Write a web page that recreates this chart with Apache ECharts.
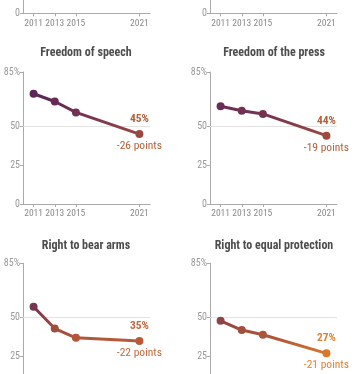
<!DOCTYPE html>
<html><head><meta charset="utf-8">
<script src="https://cdn.jsdelivr.net/npm/echarts@6/dist/echarts.min.js"></script>
<style>html,body{margin:0;padding:0;background:#fff}#c{width:355px;height:374px}</style>
</head><body><div id="c"></div>
<script>
const years = [2011, 2013, 2015, 2021];
const yTicks = [0, 25, 50, 85];
const panelTitles = ['Freedom of speech', 'Freedom of the press', 'Right to bear arms', 'Right to equal protection'];
const speech = [71, 66, 59, 45];
const press = [63, 60, 58, 44];
const bearArms = [57, 43, 37, 35];
const equalProtection = [48, 42, 39, 27];
const seriesValues = [speech, press, bearArms, equalProtection];

const FONT = "'Roboto Condensed', 'Open Sans Condensed', 'Liberation Sans', sans-serif";
const lefts = [23, 210];
const labelColors = ['#b0603a', '#b0603a', '#c0683c', '#dc8236'];

// rows: [top, height, yMax] ; the first row is only partly in view
const rows = [[0, 13.3, 85 * 13.3 / 132], [72, 132, 85], [263.3, 132, 85]];

const grids = [], xAxes = [], yAxes = [], series = [], graphics = [];
rows.forEach((row, r) => {
  for (let c = 0; c < 2; c++) {
    grids.push({left: lefts[c], top: row[0], width: 127, height: row[1], containLabel: false, outerBoundsMode: 'none'});
    const gi = grids.length - 1;
    const ticks = r === 0 ? [0] : yTicks;
    xAxes.push({
      type: 'value', gridIndex: gi, min: 2010, max: 2022,
      axisLine: {show: true, lineStyle: {color: '#aaa', width: 1}},
      axisTick: {show: true, length: 3, customValues: years, lineStyle: {color: '#aaa'}},
      axisLabel: {customValues: years, color: '#8a8a8a', fontSize: 9.5, fontFamily: FONT, margin: 5,
        hideOverlap: false, formatter: v => String(v)},
      splitLine: {show: false}
    });
    yAxes.push({
      type: 'value', gridIndex: gi, min: 0, max: row[2],
      axisLine: {show: true, lineStyle: {color: '#aaa', width: 1}},
      axisTick: {show: true, length: 3, customValues: ticks, lineStyle: {color: '#aaa'}},
      axisLabel: {customValues: ticks, color: '#999', fontSize: 10, fontFamily: FONT, margin: 3,
        hideOverlap: false, formatter: v => v === 85 ? '85%' : String(v)},
      splitLine: {show: false}
    });
  }
});

seriesValues.forEach((vals, k) => {
  const gi = k + 2;
  const last = vals[vals.length - 1];
  const change = last - vals[0];
  const data = years.map((y, i) => {
    if (i === years.length - 1) {
      return {value: [y, vals[i]], label: {show: true, position: 'top', distance: 5,
        formatter: vals[i] + '%', color: labelColors[k], fontWeight: 'bold', fontSize: 11.5, fontFamily: FONT}};
    }
    return [y, vals[i]];
  });
  series.push({
    type: 'line', xAxisIndex: gi, yAxisIndex: gi, data: data,
    symbol: 'circle', symbolSize: 8, lineStyle: {width: 3}, z: 3,
    label: {show: false},
    markLine: {silent: true, symbol: 'none', label: {show: false}, z: 1,
      lineStyle: {color: '#e2e2e2', type: 'solid', width: 1}, data: [{yAxis: 50}]},
    markPoint: {silent: true, data: [{coord: [years[years.length - 1], last], symbol: 'circle', symbolSize: 0,
      label: {show: true, position: 'bottom', distance: 6, formatter: change + ' points',
        color: labelColors[k], fontSize: 11.5, fontFamily: FONT}}]}
  });
  const r = Math.floor(gi / 2), c = gi % 2;
  graphics.push({type: 'text', x: c === 0 ? 86 : 274, y: r === 1 ? 53 : 246,
    style: {text: panelTitles[k], textAlign: 'center', textVerticalAlign: 'middle',
      fill: '#4d4d4d', font: 'bold 12px ' + FONT}});
});

const chart = echarts.init(document.getElementById('c'), null, {renderer: 'canvas'});
chart.setOption({
  animation: false,
  grid: grids, xAxis: xAxes, yAxis: yAxes, series: series,
  graphic: graphics,
  visualMap: {type: 'continuous', show: false, dimension: 1, seriesIndex: [0, 1, 2, 3],
    min: 25, max: 75, inRange: {color: ['#e37e2a', '#b85a38', '#9a483f', '#7c3750', '#652b56', '#592257']}}
});
</script></body></html>
